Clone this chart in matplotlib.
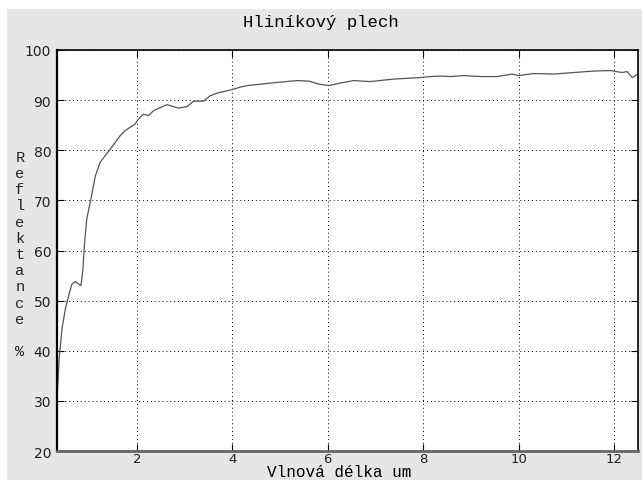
import matplotlib
matplotlib.use("Agg")
import matplotlib.pyplot as plt
from matplotlib.patches import Rectangle

# Data
wavelength = [0.335, 0.37, 0.43, 0.50, 0.57, 0.64, 0.71, 0.78, 0.83, 0.87, 0.90, 0.95,
              1.05, 1.13, 1.23, 1.44, 1.65, 1.75, 1.96, 2.03, 2.14, 2.24, 2.35, 2.63,
              2.87, 3.05, 3.19, 3.40, 3.54, 3.75, 3.82, 4.03, 4.17, 4.31, 4.80, 5.35,
              5.60, 5.81, 6.02, 6.26, 6.54, 6.89, 7.38, 7.94, 8.15, 8.36, 8.57, 8.85,
              9.20, 9.55, 9.86, 10.0, 10.31, 10.73, 11.15, 11.57, 11.92, 12.17, 12.27,
              12.38, 12.5]
reflectance = [31.7, 38.3, 44.3, 48.3, 51.0, 53.3, 53.8, 53.3, 53.0, 56.3, 61.0, 66.3,
               70.9, 74.9, 77.6, 80.2, 82.9, 83.9, 85.2, 86.2, 87.2, 86.9, 87.9, 89.1,
               88.4, 88.7, 89.8, 89.8, 90.9, 91.6, 91.7, 92.2, 92.6, 92.9, 93.4, 93.9,
               93.8, 93.2, 92.9, 93.4, 93.9, 93.7, 94.2, 94.5, 94.7, 94.8, 94.7, 94.9,
               94.7, 94.7, 95.2, 94.9, 95.3, 95.2, 95.5, 95.8, 95.9, 95.5, 95.7,
               94.5, 95.2]
xticks = [2, 4, 6, 8, 10, 12]
yticks = [20, 30, 40, 50, 60, 70, 80, 90, 100]

title = "Hliníkový plech"
xlabel = "Vlnová délka um"
ylabel = "R\ne\nf\nl\ne\nk\nt\na\nn\nc\ne\n\n%"

mono = "Liberation Mono"
bg = "#e6e6e6"

fig = plt.figure(figsize=(6.42, 4.81), dpi=100, facecolor="white")
# gray window area (white band on top and left as in screenshot)
fig.patches.append(Rectangle((7 / 642, 0), 1, 1 - 10 / 481, transform=fig.transFigure,
                             facecolor=bg, edgecolor="none", zorder=-10))

ax = fig.add_axes([56.7 / 642, 1 - 452 / 481, (638 - 56.7) / 642, (452 - 51) / 481])
ax.set_facecolor("white")
ax.plot(wavelength, reflectance, color="#555555", linewidth=0.9)

ax.set_xlim(0.32, 12.5)
ax.set_ylim(20, 100)
ax.set_xticks(xticks)
ax.set_yticks(yticks)
ax.grid(True, color="black", linestyle=(0, (1, 3)), linewidth=0.7)
ax.tick_params(direction="in", top=True, right=True, length=5, width=0.8,
               labelsize=10, labelcolor="#222222")
ax.tick_params(axis="x", pad=1, labelsize=9.5)
ax.tick_params(axis="y", pad=4)
for s in ax.spines.values():
    s.set_color("black")
    s.set_linewidth(1.2)
ax.spines["left"].set_linewidth(1.6)
ax.spines["bottom"].set_color("#666666")
ax.spines["bottom"].set_linewidth(2.0)

fig.text(321 / 642, 1 - 23 / 481, title, family=mono, fontsize=12.5, ha="center", va="center")
fig.text(339 / 642, 1 / 481, xlabel, family=mono, fontsize=11.5, ha="center", va="bottom")
fig.text(20 / 642, 1 - 255 / 481, ylabel, family=mono, fontsize=11, ha="center", va="center",
         linespacing=1.2, color="#222222")

fig.savefig("out.png", dpi=100, facecolor=fig.get_facecolor())
